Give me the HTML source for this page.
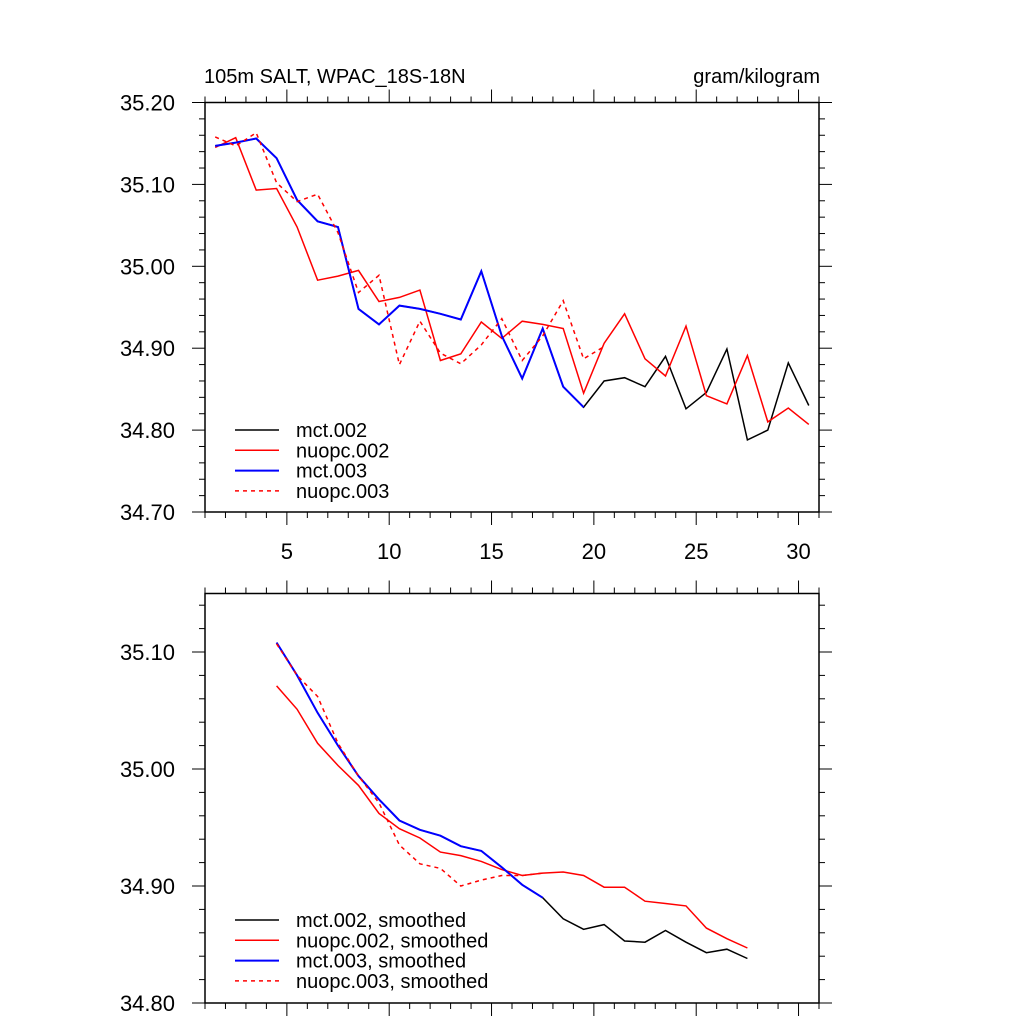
<!DOCTYPE html>
<html><head><meta charset="utf-8"><style>
html,body{margin:0;padding:0;background:#fff;}
svg{display:block;font-family:"Liberation Sans",sans-serif;}
</style></head><body>
<svg id="chart" width="1024" height="1024" viewBox="0 0 1024 1024" xmlns="http://www.w3.org/2000/svg">
<text x="204" y="83" font-size="20">105m SALT, WPAC_18S-18N</text>
<text x="820" y="83" font-size="20" text-anchor="end">gram/kilogram</text>
</svg>
<script>
const xStart = 1.5;
const topMct002 = [35.147,35.151,35.156,35.132,35.081,35.055,35.048,34.948,34.929,34.952,34.948,34.942,34.935,34.994,34.915,34.863,34.924,34.853,34.828,34.860,34.864,34.853,34.890,34.826,34.846,34.899,34.788,34.800,34.882,34.830];
const topNuopc002 = [35.145,35.157,35.093,35.095,35.048,34.983,34.988,34.995,34.957,34.962,34.971,34.885,34.893,34.932,34.912,34.933,34.929,34.924,34.845,34.906,34.942,34.887,34.866,34.927,34.842,34.832,34.891,34.810,34.827,34.807];
const topMct003 = [35.147,35.151,35.156,35.132,35.081,35.055,35.048,34.948,34.929,34.952,34.948,34.942,34.935,34.994,34.915,34.863,34.924,34.853,34.828];
const topNuopc003 = [35.158,35.147,35.163,35.102,35.079,35.088,35.041,34.968,34.989,34.880,34.933,34.894,34.881,34.904,34.936,34.885,34.915,34.958,34.887,34.902];
const smStart = 4.5;
const smMct002 = [35.108,35.080,35.048,35.020,34.994,34.974,34.956,34.948,34.943,34.934,34.930,34.916,34.901,34.890,34.872,34.863,34.867,34.853,34.852,34.862,34.852,34.843,34.846,34.838];
const smNuopc002 = [35.071,35.051,35.022,35.003,34.986,34.962,34.949,34.941,34.929,34.926,34.921,34.914,34.909,34.911,34.912,34.909,34.899,34.899,34.887,34.885,34.883,34.864,34.855,34.847];
const smMct003 = [35.108,35.080,35.048,35.020,34.994,34.974,34.956,34.948,34.943,34.934,34.930,34.916,34.901,34.890];
const smNuopc003 = [35.107,35.080,35.062,35.022,34.994,34.971,34.935,34.919,34.915,34.900,34.905,34.909,34.909,34.911];
const xTickLabels = [5,10,15,20,25,30];
const topYTicks = [34.70,34.80,34.90,35.00,35.10,35.20];
const botYTicks = [34.80,34.90,35.00,35.10];
const topLegend = ["mct.002","nuopc.002","mct.003","nuopc.003"];
const botLegend = ["mct.002, smoothed","nuopc.002, smoothed","mct.003, smoothed","nuopc.003, smoothed"];

const NS="http://www.w3.org/2000/svg";
const svg=document.getElementById('chart');
function mk(tag,attrs,parent){const e=document.createElementNS(NS,tag);for(const k in attrs)e.setAttribute(k,attrs[k]);(parent||svg).appendChild(e);return e;}
const X0=205,X1=819,XMIN=1,XMAX=31;
const xs=v=>X0+(v-XMIN)/(XMAX-XMIN)*(X1-X0);
const styles=[{c:"#000",w:1.5,d:null},{c:"#f00",w:1.5,d:null},{c:"#00f",w:2,d:null},{c:"#f00",w:1.5,d:"4,4"}];

function panel(name,top,bot,ymin,ymax,yticks,series,start,legend,legY,xlabels){
  const ys=v=>bot-(v-ymin)/(ymax-ymin)*(bot-top);
  const g=mk('g',{});
  
  
  const frame=mk('rect',{x:X0,y:top,width:X1-X0,height:bot-top,fill:'none',stroke:'#000','stroke-width':1.5},g);
  
  
  for(let v=XMIN;v<=XMAX;v++){
    const major=v%5===0, len=major?13:6, x=xs(v);
    const t1=mk('line',{x1:x,x2:x,y1:bot,y2:bot+len,stroke:'#000','stroke-width':1},g);
    
    
    const t2=mk('line',{x1:x,x2:x,y1:top,y2:top-len,stroke:'#000','stroke-width':1},g);
    
    
  }
  if(xlabels){
    xlabels.forEach(v=>{
      const t=mk('text',{x:xs(v),y:bot+47,'font-size':22,'text-anchor':'middle'},g);
      t.textContent=v;
      
      
    });
  }
  const n=Math.floor((ymax-ymin)/0.02+1e-6);
  for(let i=0;i<=n;i++){
    const v=ymin+i*0.02,y=ys(v);
    const major=Math.abs(Math.round(v*10)-v*10)<1e-6, len=major?13:6;
    const a=mk('line',{x1:X0,x2:X0-len,y1:y,y2:y,stroke:'#000','stroke-width':1},g);
    
    
    const b=mk('line',{x1:X1,x2:X1+len,y1:y,y2:y,stroke:'#000','stroke-width':1},g);
    
    
  }
  yticks.forEach(v=>{
    const t=mk('text',{x:175,y:ys(v)+8,'font-size':22,'text-anchor':'end'},g);
    t.textContent=v.toFixed(2);
    
    
  });
  series.forEach((s,i)=>{
    const st=styles[i];
    const pts=s.map((v,j)=>xs(start+j).toFixed(1)+','+ys(v).toFixed(1)).join(' ');
    const a={points:pts,fill:'none',stroke:st.c,'stroke-width':st.w,'stroke-linejoin':'miter'};
    if(st.d)a['stroke-dasharray']=st.d;
    const p=mk('polyline',a,g);
    
    
  });
  legend.forEach((l,i)=>{
    const st=styles[i], y=legY+i*20.3;
    const a={x1:235,x2:279,y1:y,y2:y,stroke:st.c,'stroke-width':st.w};
    if(st.d)a['stroke-dasharray']=st.d;
    const ln=mk('line',a,g);
    
    
    const t=mk('text',{x:296,y:y+7,'font-size':20},g);
    t.textContent=l;
    
    
  });
}
panel('top-panel',102.5,512,34.70,35.20,topYTicks,[topMct002,topNuopc002,topMct003,topNuopc003],xStart,topLegend,430,xTickLabels);
panel('bottom-panel',593.5,1003,34.80,35.15,botYTicks,[smMct002,smNuopc002,smMct003,smNuopc003],smStart,botLegend,920,null);
</script>
</body></html>
